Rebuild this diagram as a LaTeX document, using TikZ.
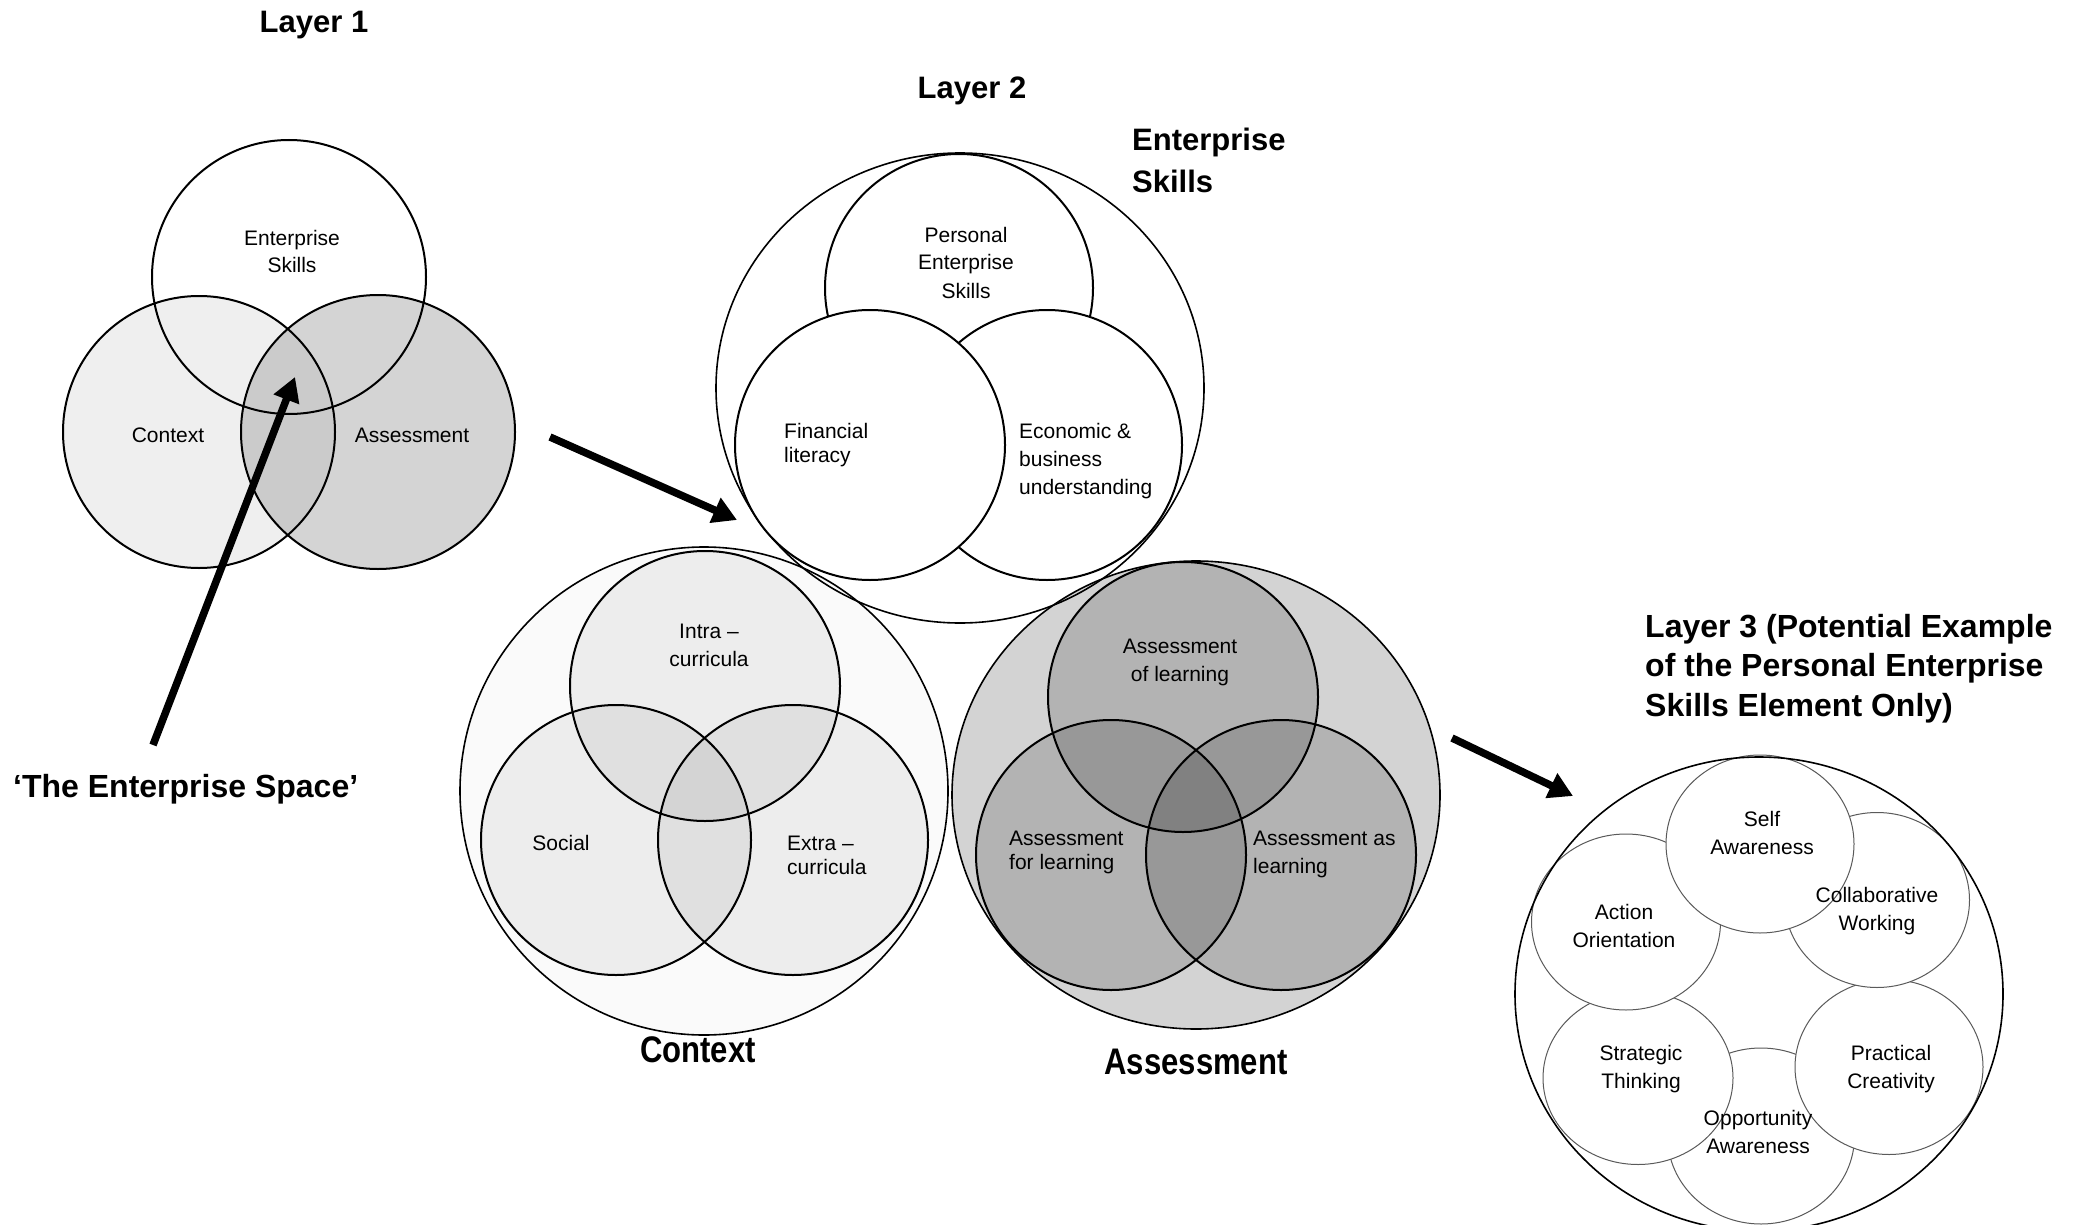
\documentclass[tikz,border=0pt]{standalone}
\usepackage{fontspec}
\usepackage{graphicx}
\setmainfont{Liberation Sans}
\usetikzlibrary{arrows.meta}
\definecolor{ctxL1}{HTML}{EFEFEF}
\definecolor{assL1}{HTML}{D4D4D4}
\definecolor{lensL1}{HTML}{CBCBCB}
\definecolor{ctxOut}{HTML}{FAFAFA}
\definecolor{assOut}{HTML}{D3D3D3}
\definecolor{thinGray}{HTML}{5A5A5A}
\newcommand{\mlines}[2][c]{\begin{tabular}[t]{@{}#1@{}}#2\end{tabular}}
\tikzset{
  venn/.style={draw=black, line width=2pt},
  outerring/.style={draw=black, line width=1.6pt},
  skillring/.style={draw=thinGray, line width=1pt, fill=white},
  lbl/.style={font=\fontsize{21}{28}\selectfont, inner sep=0pt},
  lbltight/.style={font=\fontsize{21}{24}\selectfont, inner sep=0pt},
  ttl/.style={font=\fontsize{31}{42}\selectfont\bfseries, inner sep=0pt},
  ttlbig/.style={font=\fontsize{32}{39.5}\selectfont\bfseries, inner sep=0pt},
  ttlnarrow/.style={font=\fontsize{37}{44}\selectfont\bfseries, inner sep=0pt},
  bigarrow/.style={line width=7.5pt, -{Triangle[length=24pt,width=26pt]}},
}
\begin{document}
\begin{tikzpicture}[x=1pt,y=-1pt]
\useasboundingbox (0,0) rectangle (2080,1225);
\fill[white] (0,0) rectangle (2080,1225);

% ---------------- Layer 1 ----------------
\coordinate (L1e) at (289,277);
\coordinate (L1c) at (199,432);
\coordinate (L1a) at (378,432);
\fill[ctxL1] (L1c) circle (136pt);
\fill[assL1] (L1a) circle (137pt);
\begin{scope}
  \clip (L1c) circle (136pt);
  \fill[lensL1] (L1a) circle (137pt);
\end{scope}
\draw[venn] (L1c) circle (136pt);
\draw[venn] (L1a) circle (137pt);
\draw[venn] (L1e) circle (137pt);

\node[lbl, anchor=base] (t1e) at (292,245) {\mlines{Enterprise\\Skills}};
\node[lbl, anchor=base] (t1c) at (168,442) {Context};
\node[lbl, anchor=base] (t1a) at (412,442) {Assessment};

\node[ttl, anchor=base] (lay1) at (314,33) {Layer 1};
\node[ttlbig, anchor=base west] (space) at (13,797) {‘The Enterprise Space’};

% ---------------- Layer 2: Assessment ----------------
\coordinate (Ao) at (1196,795);
\coordinate (Aol) at (1183,697);
\coordinate (Afl) at (1111,855);
\coordinate (Aal) at (1281,855);
\fill[assOut] (Ao) ellipse [x radius=244pt, y radius=234pt];
\fill[black, fill opacity=0.15] (Aol) circle (135pt);
\fill[black, fill opacity=0.15] (Afl) circle (135pt);
\fill[black, fill opacity=0.15] (Aal) circle (135pt);

% ---------------- Layer 2: Context ----------------
\coordinate (Co) at (704,791);
\coordinate (Ci) at (705,686);
\coordinate (Cs) at (616,840);
\coordinate (Cx) at (793,840);
\fill[ctxOut] (Co) circle (244pt);
\fill[black, fill opacity=0.05] (Ci) circle (135pt);
\fill[black, fill opacity=0.05] (Cs) circle (135pt);
\fill[black, fill opacity=0.05] (Cx) circle (135pt);

% outlines of context and assessment
\draw[outerring] (Co) circle (244pt);
\draw[venn] (Ci) circle (135pt);
\draw[venn] (Cs) circle (135pt);
\draw[venn] (Cx) circle (135pt);
\draw[outerring] (Ao) ellipse [x radius=244pt, y radius=234pt];
\draw[venn] (Aol) circle (135pt);
\draw[venn] (Afl) circle (135pt);
\draw[venn] (Aal) circle (135pt);

% ---------------- Layer 2: Enterprise Skills ----------------
\coordinate (Eo) at (960,388);
\coordinate (Ep) at (959,288);
\coordinate (Eb) at (1047,445);
\coordinate (Ef) at (870,445);
\draw[outerring] (Eo) ellipse [x radius=244pt, y radius=235pt];
\filldraw[venn, fill=white] (Ep) circle (134pt);
\filldraw[venn, fill=white] (Eb) circle (135pt);
\filldraw[venn, fill=white] (Ef) circle (135pt);

\node[lbl, anchor=base] (t2p) at (966,242) {\mlines{Personal\\Enterprise\\Skills}};
\node[lbltight, anchor=base west] (t2f) at (784,438) {\mlines[l]{Financial\\literacy}};
\node[lbl, anchor=base west] (t2b) at (1019,438) {\mlines[l]{Economic \&\\business\\understanding}};

\node[lbl, anchor=base] (t2i) at (709,638) {\mlines{Intra –\\curricula}};
\node[lbl, anchor=base] (t2s) at (561,850) {Social};
\node[lbltight, anchor=base west] (t2x) at (787,850) {\mlines[l]{Extra –\\curricula}};

\node[lbl, anchor=base] (t2ol) at (1180,653) {\mlines{Assessment\\of learning}};
\node[lbltight, anchor=base west] (t2fl) at (1009,845) {\mlines[l]{Assessment\\for learning}};
\node[lbl, anchor=base west] (t2al) at (1253,845) {\mlines[l]{Assessment as\\learning}};

\node[ttl, anchor=base] (lay2) at (972,99) {Layer 2};
\node[ttl, anchor=base west] (entT) at (1132,151) {\mlines[l]{Enterprise\\Skills}};
\node[ttlnarrow, anchor=base] (ctxT) at (698,1062) {\scalebox{0.84}[1]{Context}};
\node[ttlnarrow, anchor=base] (assT) at (1196,1074) {\scalebox{0.84}[1]{Assessment}};

% ---------------- Layer 3 ----------------
\coordinate (Po) at (1759,994);
\coordinate (Psa) at (1760,844);
\coordinate (Pcw) at (1877,900);
\coordinate (Pao) at (1626,922);
\coordinate (Pst) at (1638,1078);
\coordinate (Ppc) at (1889,1067);
\coordinate (Poa) at (1761,1136);
\filldraw[skillring] (Poa) ellipse [x radius=93.5pt, y radius=88pt];
\filldraw[skillring] (Pst) ellipse [x radius=95pt, y radius=86.5pt];
\filldraw[skillring] (Ppc) ellipse [x radius=94pt, y radius=87.5pt];
\filldraw[skillring] (Pao) ellipse [x radius=94.5pt, y radius=88pt];
\filldraw[skillring] (Pcw) ellipse [x radius=92.5pt, y radius=87.5pt];
\filldraw[skillring] (Psa) ellipse [x radius=94pt, y radius=89pt];
\draw[outerring] (Po) ellipse [x radius=244pt, y radius=237pt];

\node[lbl, anchor=base] (t3sa) at (1762,826) {\mlines{Self\\Awareness}};
\node[lbl, anchor=base] (t3cw) at (1877,902) {\mlines{Collaborative\\Working}};
\node[lbl, anchor=base] (t3ao) at (1624,919) {\mlines{Action\\Orientation}};
\node[lbl, anchor=base] (t3st) at (1641,1060) {\mlines{Strategic\\Thinking}};
\node[lbl, anchor=base] (t3pc) at (1891,1060) {\mlines{Practical\\Creativity}};
\node[lbl, anchor=base] (t3oa) at (1758,1125) {\mlines{Opportunity\\Awareness}};

\node[ttlbig, anchor=base west] (lay3) at (1645,637) {\mlines[l]{Layer 3 (Potential Example\\of the Personal Enterprise\\Skills Element Only)}};

% ---------------- Arrows ----------------
\coordinate (a1s) at (153,745);
\coordinate (a1e) at (295,377);
\coordinate (a2s) at (550,437);
\coordinate (a2e) at (737,520);
\coordinate (a3s) at (1452,738);
\coordinate (a3e) at (1573,796);
\draw[bigarrow] (a1s) -- (a1e);
\draw[bigarrow] (a2s) -- (a2e);
\draw[bigarrow] (a3s) -- (a3e);
\end{tikzpicture}
\end{document}
